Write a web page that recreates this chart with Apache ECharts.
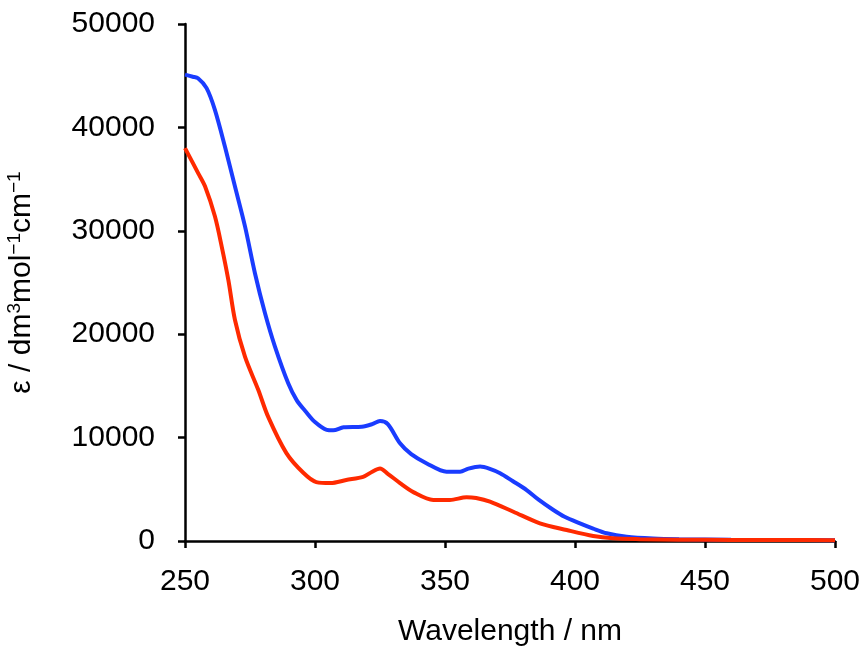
<!DOCTYPE html>
<html>
<head>
<meta charset="utf-8">
<script src="https://cdn.jsdelivr.net/npm/echarts@6/dist/echarts.min.js"></script>
<style>
  html, body { margin: 0; padding: 0; background: #fff; }
  #main { width: 865px; height: 649px; }
</style>
</head>
<body>
<div id="main"></div>
<script>
// absorption spectra
var blueWl  = [250, 253, 255, 258.3, 261.5, 265.4, 269.2, 273.1, 276.9, 280.8, 284.6, 289.7, 293, 296.5, 300, 304.5, 307, 311, 318, 322, 325, 328, 332.7, 337, 343, 350.6, 355.8, 359, 363.5, 367, 371.2, 376, 381.4, 386, 391.7, 396, 401.9, 407, 412.2, 419.9, 430, 440, 460, 480, 500];
var blueEps = [45100, 44900, 44750, 43800, 41700, 38100, 34300, 30400, 25900, 22000, 18800, 15250, 13600, 12500, 11500, 10750, 10700, 11000, 11050, 11300, 11600, 11300, 9450, 8400, 7500, 6700, 6700, 7000, 7200, 7000, 6550, 5800, 4930, 4000, 3000, 2350, 1710, 1200, 750, 420, 250, 180, 120, 100, 80];

var redWl  = [250, 255.1, 257.7, 261.5, 264.1, 266.7, 269.2, 273.1, 278.2, 282, 289, 295.5, 300.5, 306, 312, 318.5, 322, 325, 328, 332.7, 338, 345.5, 351.9, 358.3, 362, 367.3, 376.3, 386.5, 396.8, 407, 414.6, 425, 440, 460, 480, 500];
var redEps = [38000, 35560, 34300, 31400, 28500, 25200, 21400, 17800, 14600, 12000, 8500, 6600, 5700, 5600, 5900, 6200, 6700, 7000, 6500, 5600, 4700, 3970, 3970, 4230, 4150, 3800, 2830, 1710, 1060, 480, 260, 180, 130, 100, 90, 80];

var xTicks = [250, 300, 350, 400, 450, 500];
var yTicks = [0, 10000, 20000, 30000, 40000, 50000];

function pairs(xs, ys) {
    var out = [];
    for (var i = 0; i < xs.length; i++) {
        out.push([xs[i], ys[i]]);
    }
    return out;
}

var font = 'Liberation Sans, Arial, sans-serif';
var myChart = echarts.init(document.getElementById('main'));

var axisStyle = {
    axisLine: { show: true, onZero: false, lineStyle: { color: '#000', width: 2.5 } },
    axisTick: { show: true, inside: false, length: 7, lineStyle: { color: '#000', width: 2.5 } },
    splitLine: { show: false }
};

option = {
    backgroundColor: '#fff',
    animation: false,
    grid: { left: 185, right: 30, top: 24, bottom: 108, containLabel: false, outerBoundsMode: 'none' },
    xAxis: Object.assign({
        type: 'value',
        min: xTicks[0],
        max: xTicks[xTicks.length - 1],
        interval: 50,
        name: 'Wavelength / nm',
        nameLocation: 'middle',
        nameGap: 76,
        nameTextStyle: { color: '#000', fontSize: 30, fontFamily: font },
        axisLabel: { color: '#000', fontSize: 30, fontFamily: font, margin: 26 }
    }, axisStyle),
    yAxis: Object.assign({
        type: 'value',
        min: yTicks[0],
        max: yTicks[yTicks.length - 1],
        interval: 10000,
        name: '{a|ε / dm}{s|3}{a|mol}{s|−1}{a|cm}{s|−1}',
        nameLocation: 'middle',
        nameGap: 146,
        nameTextStyle: {
            color: '#000', fontSize: 30, fontFamily: font,
            rich: {
                a: { color: '#000', fontSize: 30, fontFamily: font, lineHeight: 34 },
                s: { color: '#000', fontSize: 19, fontFamily: font, lineHeight: 19, verticalAlign: 'top' }
            }
        },
        axisLabel: {
            color: '#000', fontSize: 30, fontFamily: font, margin: 30,
            formatter: function (v) { return String(v); }
        }
    }, axisStyle),
    series: [
        {
            name: 'blue',
            type: 'line',
            data: pairs(blueWl, blueEps),
            smooth: 0.3,
            showSymbol: false,
            lineStyle: { color: '#1a3cff', width: 4 },
            z: 2
        },
        {
            name: 'red',
            type: 'line',
            data: pairs(redWl, redEps),
            smooth: 0.3,
            showSymbol: false,
            lineStyle: { color: '#ff2a00', width: 4 },
            z: 3
        }
    ]
};
myChart.setOption(option);
</script>
</body>
</html>
